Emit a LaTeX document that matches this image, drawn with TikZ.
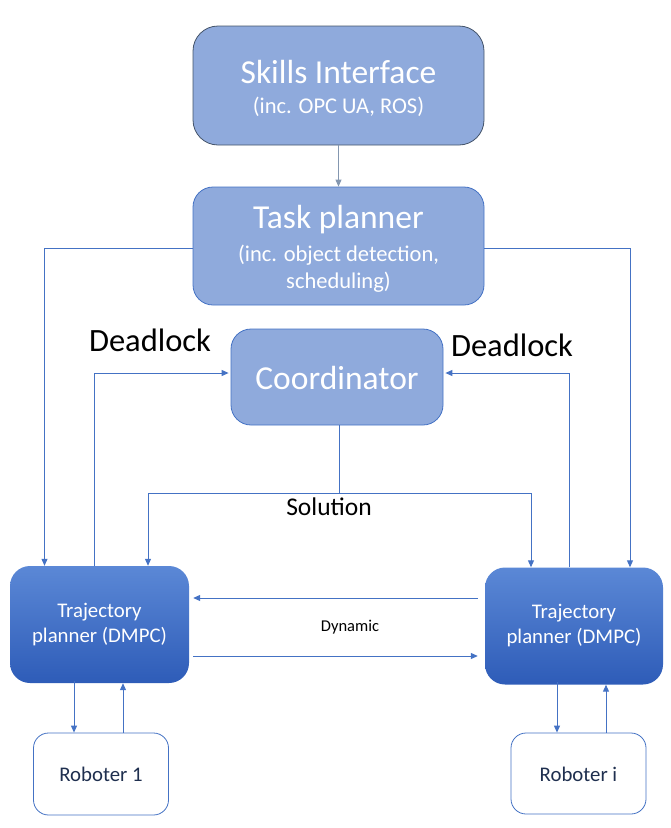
\documentclass[tikz,border=0pt]{standalone}
\usepackage{fontspec}
\setmainfont{Carlito}
\usetikzlibrary{arrows.meta,calc}
\definecolor{boxfill}{HTML}{8FAADC}
\definecolor{blueln}{HTML}{4472C4}
\definecolor{darkln}{HTML}{44546A}
\definecolor{grayarr}{HTML}{8497B0}
\definecolor{tptop}{HTML}{5B88D6}
\definecolor{tpbot}{HTML}{2E5CB8}
\definecolor{navy}{HTML}{1F2F4F}
\tikzset{
  lightbox/.style={draw=blueln, line width=0.8pt, fill=boxfill, rounded corners=20pt, inner sep=0pt},
  trajbox/.style={rounded corners=20pt, top color=tptop, bottom color=tpbot, draw=none, inner sep=0pt},
  robbox/.style={draw=blueln, line width=0.8pt, fill=white, rounded corners=15pt, inner sep=0pt},
  arr/.style={draw=blueln, line width=1pt, -{Triangle[length=7pt,width=6pt]}},
  titletxt/.style={text=white, font=\fontsize{33.5}{38}\selectfont, inner sep=0pt},
  subtxt/.style={text=white, font=\fontsize{22.5}{27}\selectfont, inner sep=0pt, align=center},
  trajtxt/.style={text=white, font=\fontsize{20.8}{25}\selectfont, inner sep=0pt, align=center},
  robtxt/.style={text=navy, font=\fontsize{20.8}{24}\selectfont, inner sep=0pt},
  blacktxt/.style={text=black, inner sep=0pt}
}
\begin{document}
\begin{tikzpicture}[x=1pt,y=-1pt]
\useasboundingbox (0,0) rectangle (671,828);
% boxes
\node[lightbox, draw=darkln, rounded corners=25pt, minimum width=291pt, minimum height=119pt] (skills) at (338.5,85.5) {};
\node[lightbox, minimum width=291pt, minimum height=118pt] (task) at (338.5,246) {};
\node[lightbox, minimum width=212pt, minimum height=96pt] (coord) at (337,377) {};
\node[trajbox, minimum width=179pt, minimum height=117pt] (tp1) at (99.5,624.5) {};
\node[trajbox, minimum width=178pt, minimum height=117pt] (tp2) at (574,626) {};
\node[robbox, minimum width=135pt, minimum height=82pt] (r1) at (101,774) {};
\node[robbox, minimum width=135pt, minimum height=81pt] (r2) at (578.5,773.5) {};
% texts
\node[titletxt] (skillsT) at (338.5,72) {Skills Interface};
\node[subtxt] (skillsS) at (338.5,107) {(inc. OPC UA, ROS)};
\node[titletxt] (taskT) at (338.5,220) {Task planner};
\node[subtxt] (taskS) at (338.5,268.5) {(inc. object detection,\\scheduling)};
\node[titletxt] (coordT) at (337,378) {Coordinator};
\node[trajtxt] (tp1T) at (99.5,625) {Trajectory\\planner (DMPC)};
\node[trajtxt] (tp2T) at (574,626) {Trajectory\\planner (DMPC)};
\node[robtxt] (r1T) at (101,774) {Roboter 1};
\node[robtxt] (r2T) at (578.5,774) {Roboter i};
\node[blacktxt, font=\fontsize{32.5}{36}\selectfont] (dl1) at (150,340) {Deadlock};
\node[blacktxt, font=\fontsize{32.5}{36}\selectfont] (dl2) at (512,345) {Deadlock};
\node[blacktxt, font=\fontsize{25.5}{30}\selectfont] (sol) at (329,507) {Solution};
\node[blacktxt, font=\fontsize{16.5}{20}\selectfont] (dyn) at (350,627) {Dynamic};
% helper coordinates
\coordinate (xl) at (44.5,0);
\coordinate (xr) at (630,0);
\coordinate (dlx) at (94,0);
\coordinate (drx) at (569,0);
\coordinate (slx) at (148,0);
\coordinate (srx) at (531,0);
\coordinate (cx) at (339.5,0);
\coordinate (sy) at (0,493);
\coordinate (dy) at (0,373);
\coordinate (dyu) at (0,598);
\coordinate (dyd) at (0,656);
\coordinate (rd1) at (74,0);
\coordinate (ru1) at (123,0);
\coordinate (rd2) at (557,0);
\coordinate (ru2) at (606,0);
% connectors
\draw[draw=grayarr, line width=1pt, -{Triangle[length=7pt,width=6pt]}] (skills.south) -- (task.north);
\draw[arr] (task.west |- 0,248) -| (tp1.north -| xl);
\draw[arr] (task.east |- 0,248) -| (tp2.north -| xr);
\draw[arr] (tp1.north -| dlx) |- ([xshift=-2pt]coord.west |- dy);
\draw[arr] (tp2.north -| drx) |- ([xshift=2pt]coord.east |- dy);
\draw[arr] (coord.south -| cx) -- (cx |- sy) -| (tp1.north -| slx);
\draw[arr] (cx |- sy) -| (tp2.north -| srx);
\draw[arr] ([xshift=-7pt]tp2.west |- dyu) -- ([xshift=4pt]tp1.east |- dyu);
\draw[arr] ([xshift=4pt]tp1.east |- dyd) -- ([xshift=-7pt]tp2.west |- dyd);
\draw[arr] ([yshift=2pt]tp1.south -| rd1) -- (r1.north -| rd1);
\draw[arr] (r1.north -| ru1) -- (tp1.south -| ru1);
\draw[arr] ([yshift=3pt]tp2.south -| rd2) -- (r2.north -| rd2);
\draw[arr] (r2.north -| ru2) -- (tp2.south -| ru2);
\end{tikzpicture}
\end{document}
